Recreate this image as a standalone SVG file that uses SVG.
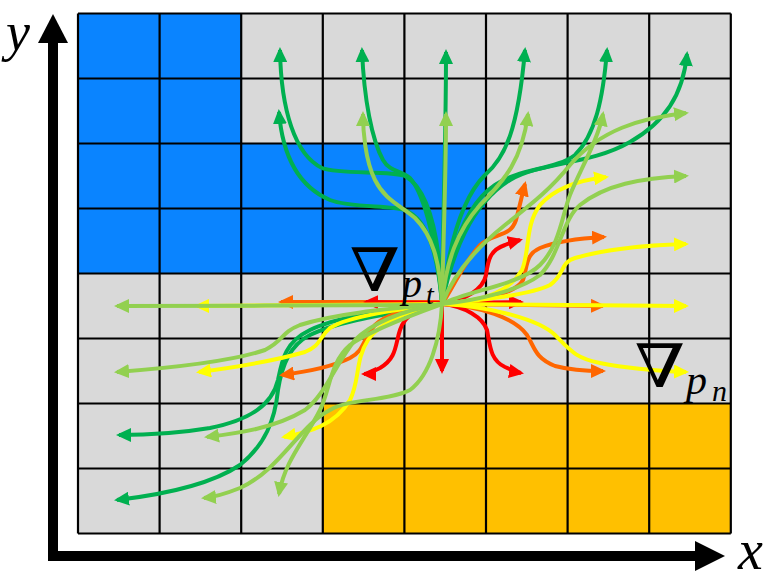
<svg xmlns="http://www.w3.org/2000/svg" width="780" height="581" viewBox="0 0 780 581">
<defs>
<style>
.c{fill:none;stroke-width:4;stroke-linecap:butt;stroke-linejoin:round}
.dg{stroke:#00B050;marker-end:url(#mDG)}
.lg{stroke:#92D050;marker-end:url(#mLG)}
.ye{stroke:#FFFF00;marker-end:url(#mYE)}
.or{stroke:#FF6600;marker-end:url(#mOR)}
.rd{stroke:#FF0000;marker-end:url(#mRD)}
.gl{stroke:#000;stroke-width:2.2;fill:none}
.math{font-family:"Liberation Serif","DejaVu Serif",serif;font-style:italic;fill:#000}
.nab{font-family:"DejaVu Serif","Liberation Serif",serif;fill:#000}
</style>
<marker id="mDG" viewBox="0 0 15 14" refX="12" refY="7" markerWidth="15" markerHeight="14" markerUnits="userSpaceOnUse" orient="auto"><path d="M0,0L15,7L0,14z" fill="#00B050"/></marker>
<marker id="mLG" viewBox="0 0 15 14" refX="12" refY="7" markerWidth="15" markerHeight="14" markerUnits="userSpaceOnUse" orient="auto"><path d="M0,0L15,7L0,14z" fill="#92D050"/></marker>
<marker id="mYE" viewBox="0 0 15 14" refX="12" refY="7" markerWidth="15" markerHeight="14" markerUnits="userSpaceOnUse" orient="auto"><path d="M0,0L15,7L0,14z" fill="#FFFF00"/></marker>
<marker id="mOR" viewBox="0 0 15 14" refX="12" refY="7" markerWidth="15" markerHeight="14" markerUnits="userSpaceOnUse" orient="auto"><path d="M0,0L15,7L0,14z" fill="#FF6600"/></marker>
<marker id="mRD" viewBox="0 0 15 14" refX="12" refY="7" markerWidth="15" markerHeight="14" markerUnits="userSpaceOnUse" orient="auto"><path d="M0,0L15,7L0,14z" fill="#FF0000"/></marker>
</defs>
<rect width="780" height="581" fill="#fff"/>
<g id="grid">
<rect x="78" y="13.5" width="652.8" height="520" fill="#D9D9D9"/>
<rect x="78" y="13.5" width="163.2" height="260" fill="#0A84FF"/>
<rect x="241.2" y="143.5" width="244.8" height="130" fill="#0A84FF"/>
<rect x="322.8" y="403.5" width="408" height="130" fill="#FFC000"/>
<path class="gl" d="M78,13.5V533.5M159.6,13.5V533.5M241.2,13.5V533.5M322.8,13.5V533.5M404.4,13.5V533.5M486,13.5V533.5M567.6,13.5V533.5M649.2,13.5V533.5M730.8,13.5V533.5M78,13.5H730.8M78,78.5H730.8M78,143.5H730.8M78,208.5H730.8M78,273.5H730.8M78,338.5H730.8M78,403.5H730.8M78,468.5H730.8M78,533.5H730.8"/>
</g>
<g id="axes">
<path d="M53,43V556H695" fill="none" stroke="#000" stroke-width="10"/>
<polygon points="38,43 53,14 68,43" fill="#000"/>
<polygon points="695,541 725,556 695,571" fill="#000"/>
<text class="math" x="6" y="50" font-size="54">y</text>
<text class="math" x="738" y="569" font-size="56">x</text>
</g>
<g id="connectors">
<!-- dark green -->
<path class="c dg" d="M442,303 C440,240 430,190 405,176 C390,170 340,175 322,168 C295,155 281,110 280,50"/>
<path class="c dg" d="M442,303 C438,260 430,220 405,210 C390,205 350,208 330,200 C295,185 282,150 279,112"/>
<path class="c dg" d="M442,303 C438,250 425,195 410,178 C400,170 390,172 383,160 C372,140 364,100 362,50"/>
<path class="c dg" d="M442,303 C442,250 446,150 446,52"/>
<path class="c dg" d="M442,303 C448,250 460,200 485,175 C505,158 518,130 525,50"/>
<path class="c dg" d="M442,303 C450,250 465,205 495,185 C520,168 555,170 575,155 C595,135 603,100 607,50"/>
<path class="c dg" d="M442,303 C452,255 470,205 510,180 C540,162 590,165 630,142 C665,122 683,95 687,54"/>
<path class="c dg" d="M442,304 C400,308 340,315 310,330 C285,342 282,360 278,380 C272,405 250,420 210,428 C180,433 150,435 119,435"/>
<path class="c dg" d="M442,304 C400,312 340,320 310,335 C290,345 282,365 278,390 C275,420 265,445 240,465 C210,485 160,495 117,500"/>
<!-- orange -->
<path class="c or" d="M442,302 L281,302"/>
<path class="c or" d="M442,304 C410,308 385,315 375,325 C362,340 365,350 350,358 C330,368 305,372 282,375"/>
<path class="c or" d="M442,304 L603,306"/>
<path class="c or" d="M442,304 C455,285 462,265 480,245 C495,232 510,238 516,220 C520,205 522,195 525,184"/>
<path class="c or" d="M442,304 C480,300 515,295 523,280 C528,265 525,255 540,248 C560,240 585,238 604,237"/>
<path class="c or" d="M442,304 C480,306 515,318 527,335 C535,348 535,358 555,366 C570,370 585,371 603,371"/>
<!-- red -->
<path class="c rd" d="M442,303 L366,302"/>
<path class="c rd" d="M442,304 C420,306 405,315 400,330 C395,345 397,358 380,368 C372,372 368,374 364,374"/>
<path class="c rd" d="M442,303 L521,302"/>
<path class="c rd" d="M442,304 C465,306 483,318 487,330 C490,345 490,360 505,367 C512,370 515,372 521,373"/>
<path class="c rd" d="M442,304 C465,300 483,290 486,275 C488,260 490,250 505,245 C512,242 516,241 520,240"/>
<path class="c rd" d="M442,304 L442,371"/>
<!-- yellow -->
<path class="c ye" d="M442,304 L197,306"/>
<path class="c ye" d="M442,304 C410,308 350,315 330,328 C318,338 322,345 305,352 C270,362 230,368 199,372"/>
<path class="c ye" d="M442,304 C410,310 380,322 368,340 C355,360 360,380 350,400 C335,425 310,432 284,437"/>
<path class="c ye" d="M442,304 L686,306"/>
<path class="c ye" d="M442,304 C490,300 510,290 522,270 C530,250 525,225 540,205 C555,188 580,180 606,177"/>
<path class="c ye" d="M442,304 C480,300 530,295 550,285 C565,275 560,262 575,258 C610,248 650,245 686,244"/>
<path class="c ye" d="M442,304 C490,306 540,320 555,335 C570,350 575,358 600,363 C630,369 660,371 686,372"/>
<!-- light green -->
<path class="c lg" d="M442,305 C400,305 200,306 117,306"/>
<path class="c lg" d="M442,304 C400,308 340,312 300,325 C280,333 285,340 265,350 C230,362 170,368 117,372"/>
<path class="c lg" d="M442,304 C400,310 370,325 355,340 C335,365 325,395 305,410 C275,428 240,433 207,437"/>
<path class="c lg" d="M442,304 C440,340 430,375 410,390 C385,402 350,398 330,410 C300,425 280,470 240,488 C225,494 215,497 204,498"/>
<path class="c lg" d="M442,304 C420,312 370,330 350,345 C330,362 330,390 320,410 C305,440 285,460 279,494"/>
<path class="c lg" d="M442,304 C440,260 432,235 415,218 C400,205 385,200 375,180 C365,160 363,130 363,114"/>
<path class="c lg" d="M442,304 C443,250 446,180 446,114"/>
<path class="c lg" d="M442,304 C446,260 458,230 480,205 C505,180 522,160 528,114"/>
<path class="c lg" d="M442,304 C470,290 520,285 540,265 C560,245 562,215 570,195 C580,170 598,140 603,114"/>
<path class="c lg" d="M442,304 C455,270 480,245 505,225 C530,205 550,190 570,165 C600,130 640,118 686,113"/>
<path class="c lg" d="M442,304 C480,300 520,290 540,275 C560,255 562,220 580,205 C605,185 640,178 686,176"/>
</g>
<g id="labels">
<text class="nab" transform="translate(349.5,291) scale(1.21,1)" font-size="60">∇</text>
<text class="math" x="402" y="297" font-size="40">p</text>
<text class="math" x="426" y="304" font-size="28">t</text>
<text class="nab" transform="translate(634.5,387) scale(1.21,1)" font-size="60">∇</text>
<text class="math" x="686" y="394" font-size="42">p</text>
<text class="math" x="712" y="401" font-size="30">n</text>
</g>
</svg>
